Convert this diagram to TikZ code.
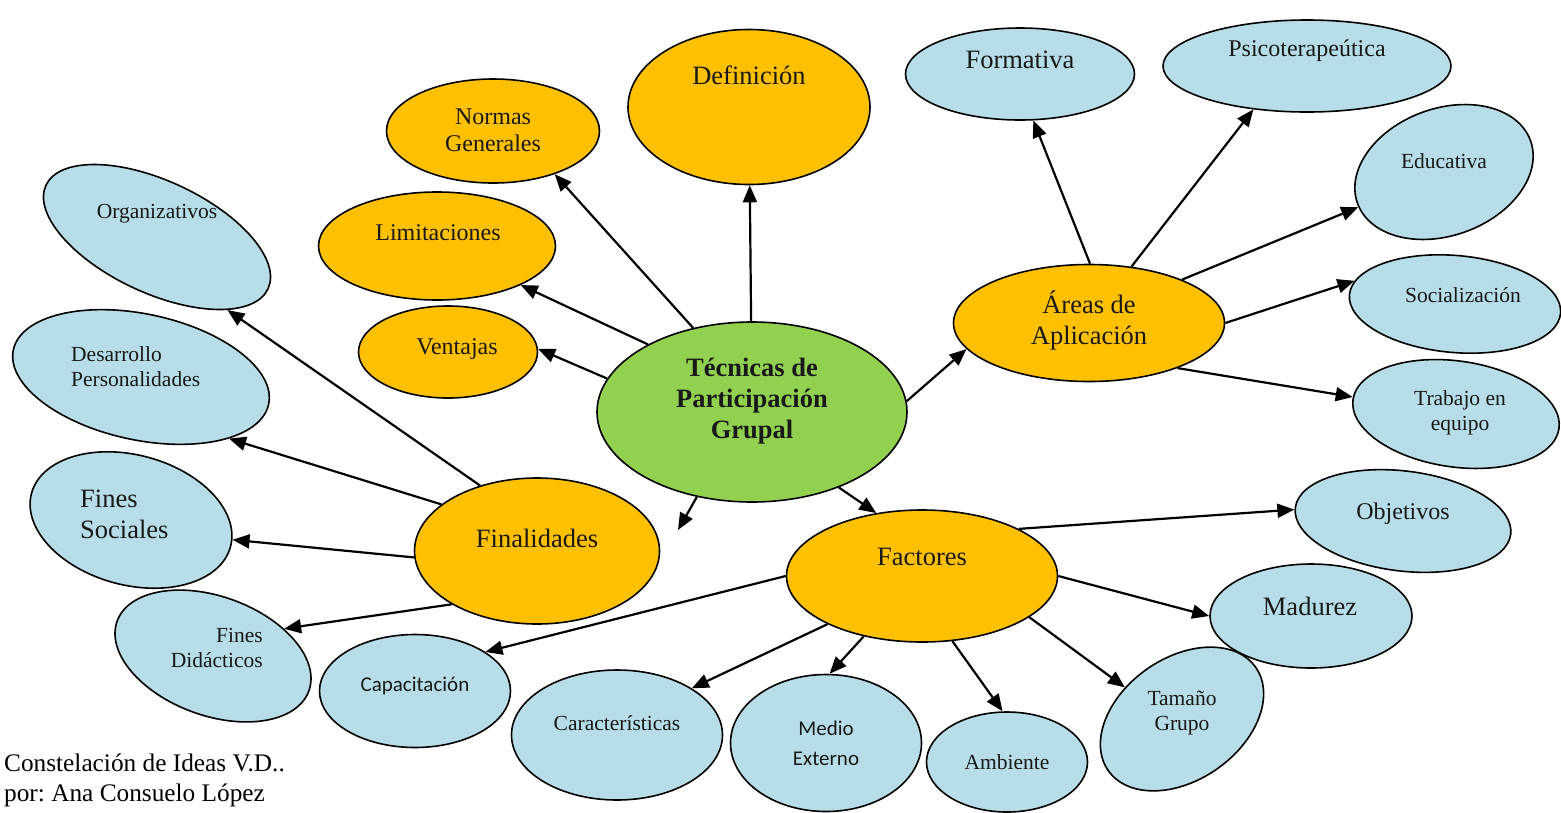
\documentclass[tikz,border=0pt]{standalone}
\usepackage{fontspec}
\setmainfont{Liberation Serif}
\newfontfamily\calibri{Carlito}
\usepackage{tikz}
\usetikzlibrary{shapes.geometric, arrows.meta}
\definecolor{grn}{RGB}{146,208,80}
\definecolor{org}{RGB}{255,192,0}
\definecolor{lblue}{RGB}{183,221,232}
\tikzstyle{core} = [ellipse, draw=black, line width=1.6pt, fill=grn, inner sep=0pt]
\tikzstyle{hub} = [ellipse, draw=black, line width=1.6pt, fill=org, inner sep=0pt]
\tikzstyle{leaf} = [ellipse, draw=black, line width=1.6pt, fill=lblue, inner sep=0pt]
\tikzstyle{txtS} = [font=\fontsize{21.5}{25}\selectfont, align=center, inner sep=0pt, text=black!90]
\tikzstyle{txtM} = [font=\fontsize{24}{27}\selectfont, align=center, inner sep=0pt, text=black!90]
\tikzstyle{txtL} = [font=\fontsize{26.5}{31}\selectfont, align=center, inner sep=0pt, text=black!90]
\tikzstyle{arrow} = [line width=2.2pt, -{Triangle[length=17pt,width=14pt]}]

\begin{document}
\begin{tikzpicture}[x=1pt, y=-1pt]
\useasboundingbox (0,0) rectangle (1561,812);
% centre and main branches
\node [core, minimum width=310pt, minimum height=180pt] (centro) at (752,412) {};
\node [hub, minimum width=242pt, minimum height=155pt] (def) at (749,107) {};
\node [hub, minimum width=213pt, minimum height=104pt] (normas) at (493,131) {};
\node [hub, minimum width=237pt, minimum height=108pt] (limit) at (437,246) {};
\node [hub, minimum width=179pt, minimum height=92pt] (ventajas) at (448,352) {};
\node [hub, minimum width=271pt, minimum height=117pt] (areas) at (1089,323) {};
\node [hub, minimum width=271pt, minimum height=132pt] (factores) at (922,576) {};
\node [hub, minimum width=245pt, minimum height=146pt] (finalid) at (537,551) {};
% areas de aplicacion
\node [leaf, minimum width=229pt, minimum height=92pt] (formativa) at (1020,74) {};
\node [leaf, minimum width=288pt, minimum height=92pt] (psico) at (1307,66) {};
\node [leaf, minimum width=184pt, minimum height=127pt, rotate=20] (educ) at (1444,172) {};
\node [leaf, minimum width=212pt, minimum height=97pt, rotate=-5] (social) at (1455,304) {};
\node [leaf, minimum width=208pt, minimum height=106pt, rotate=-8] (trabajo) at (1456,414) {};
% factores
\node [leaf, minimum width=217pt, minimum height=100pt, rotate=-7] (objetivos) at (1403,521) {};
\node [leaf, minimum width=202pt, minimum height=104pt] (madurez) at (1311,616) {};
\node [leaf, minimum width=180pt, minimum height=122pt, rotate=35] (tamano) at (1182,719) {};
\node [leaf, minimum width=161pt, minimum height=100pt] (ambiente) at (1007,762) {};
\node [leaf, minimum width=191pt, minimum height=137pt] (medio) at (826,743) {};
\node [leaf, minimum width=211pt, minimum height=130pt] (caract) at (617,735) {};
\node [leaf, minimum width=191pt, minimum height=113pt] (capac) at (415,691) {};
% finalidades
\node [leaf, minimum width=204pt, minimum height=119pt, rotate=-20] (findid) at (213,656) {};
\node [leaf, minimum width=206pt, minimum height=130pt, rotate=-15] (finsoc) at (131,520) {};
\node [leaf, minimum width=261pt, minimum height=126pt, rotate=-12] (desarr) at (141,377) {};
\node [leaf, minimum width=245pt, minimum height=112pt, rotate=-25] (organ) at (157,237) {};
\coordinate (finend) at (678,530);

% connectors
\draw [arrow] (centro) -- (def);
\draw [arrow] (centro.125) -- (normas.-35);
\draw [arrow] (centro.147) -- (limit);
\draw [arrow] (centro.167) -- (ventajas.2);
\draw [arrow] (centro.237) -- (finend);
\draw [arrow] (centro.-41) -- (factores.126);
\draw [arrow] (centro.4) -- (areas.192);
\draw [arrow] (areas.89) -- (formativa.-74);
\draw [arrow] (areas.53) -- (psico.-141);
\draw [arrow] (areas.25) -- (educ);
\draw [arrow] (areas.0) -- (social.172);
\draw [arrow] (areas.-27) -- (trabajo);
\draw [arrow] (factores.26) -- (objetivos.181);
\draw [arrow] (factores.0) -- (madurez.180);
\draw [arrow] (factores.-21) -- (tamano.116);
\draw [arrow] (factores.-65) -- (ambiente.95);
\draw [arrow] (factores.-134) -- (medio.87);
\draw [arrow] (factores.-153) -- (caract.32);
\draw [arrow] (factores.180) -- (capac.29);
\draw [arrow] (finalid.212) -- (findid.41);
\draw [arrow] (finalid.183) -- (finsoc.4);
\draw [arrow] (finalid.154) -- (desarr.-23);
\draw [arrow] (finalid.131) -- (organ.-21);

% texts
\node [txtL, font=\fontsize{26.5}{31}\selectfont\bfseries] (centroTxt) at (752,401) {Técnicas de\\Participación\\Grupal};
\node [txtL] (defTxt) at (749,75) {Definición};
\node [txtM] (normasTxt) at (493,130) {Normas\\Generales};
\node [txtM] (limitTxt) at (438,233) {Limitaciones};
\node [txtM] (ventajasTxt) at (457,349) {Ventajas};
\node [txtL] (areasTxt) at (1089,320) {Áreas de\\Aplicación};
\node [txtL] (factoresTxt) at (922,557) {Factores};
\node [txtL] (finalidTxt) at (537,538) {Finalidades};
\node [txtL] (formativaTxt) at (1020,60) {Formativa};
\node [txtM] (psicoTxt) at (1307,51) {Psicoterapeútica};
\node [txtS] (educTxt) at (1444,161) {Educativa};
\node [txtS] (socialTxt) at (1463,295) {Socialización};
\node [txtS] (trabajoTxt) at (1460,413) {Trabajo en\\equipo};
\node [txtM] (objetivosTxt) at (1403,514) {Objetivos};
\node [txtL] (madurezTxt) at (1310,606) {Madurez};
\node [txtS] (tamanoTxt) at (1182,713) {Tamaño\\Grupo};
\node [txtS] (ambienteTxt) at (1007,762) {Ambiente};
\node [txtS, font=\calibri\fontsize{21}{30}\selectfont] (medioTxt) at (826,743) {Medio\\Externo};
\node [txtS] (caractTxt) at (617,723) {Características};
\node [txtS, font=\calibri\fontsize{21}{25}\selectfont] (capacTxt) at (415,686) {Capacitación};
\node [txtS, align=right, anchor=east] (findidTxt) at (263,648) {Fines\\Didácticos};
\node [txtL, align=left, anchor=west] (finsocTxt) at (80,514) {Fines\\Sociales};
\node [txtS, align=left, anchor=west] (desarrTxt) at (71,367) {Desarrollo\\Personalidades};
\node [txtS] (organTxt) at (157,214) {Organizativos};
\node [font=\fontsize{25.3}{30}\selectfont\frenchspacing, align=left, anchor=west, inner sep=0pt] (firma) at (4,780) {Constelación de Ideas V.D..\\por: Ana Consuelo López};
\end{tikzpicture}
\end{document}
